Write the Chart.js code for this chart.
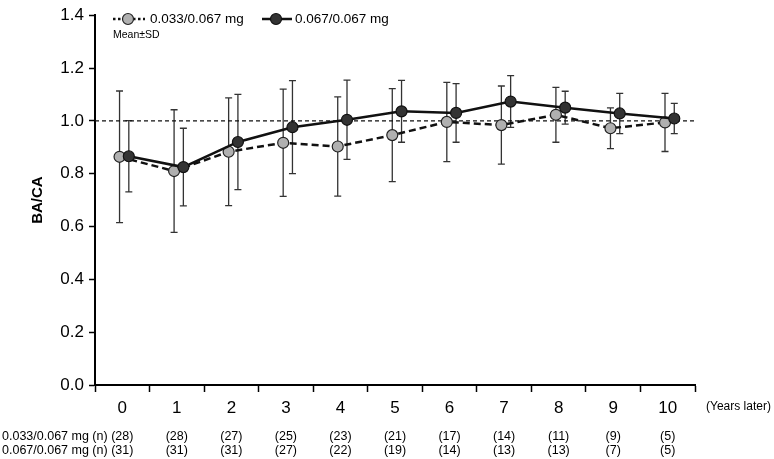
<!DOCTYPE html>
<html>
<head>
<meta charset="utf-8">
<script src="https://cdn.jsdelivr.net/npm/chart.js@4.4.0/dist/chart.umd.min.js"></script>
<style>
html,body{margin:0;padding:0;background:#fff;}
#wrap{position:relative;width:774px;height:459px;}
</style>
</head>
<body>
<div id="wrap"><canvas id="c" width="774" height="459"></canvas></div>
<script>
const years = [0,1,2,3,4,5,6,7,8,9,10];
const seriesNames = ['0.033/0.067 mg', '0.067/0.067 mg'];
const mean033 = [0.864,0.810,0.883,0.917,0.903,0.946,0.996,0.984,1.023,0.972,0.994];
const sd033   = [0.249,0.232,0.204,0.203,0.188,0.176,0.150,0.148,0.104,0.077,0.110];
const mean067 = [0.866,0.825,0.920,0.976,1.004,1.036,1.030,1.073,1.050,1.028,1.009];
const sd067   = [0.135,0.147,0.180,0.176,0.150,0.117,0.111,0.098,0.062,0.076,0.057];
const n033 = [28,28,27,25,23,21,17,14,11,9,5];
const n067 = [31,31,31,27,22,19,14,13,13,7,5];
const yTicks = [0,0.2,0.4,0.6,0.8,1.0,1.2,1.4];
const refValue = 1.0;
const rowLabels = ['0.033/0.067 mg (n)', '0.067/0.067 mg (n)'];

const FONT = "'Liberation Sans', Arial, sans-serif";
const OFF033 = -0.05, OFF067 = 0.12;

const d033 = years.map((x,i)=>({x:x+OFF033, y:mean033[i], sd:sd033[i]}));
const d067 = years.map((x,i)=>({x:x+OFF067, y:mean067[i], sd:sd067[i]}));

const errorBars = {
  id:'errorBars',
  beforeDatasetsDraw(chart){
    const {ctx, scales:{x,y}} = chart;
    ctx.save();
    ctx.strokeStyle = '#333';
    ctx.lineWidth = 1.3;
    [0,1].forEach(di=>{
      chart.data.datasets[di].data.forEach(p=>{
        const px = x.getPixelForValue(p.x);
        const top = y.getPixelForValue(p.y + p.sd);
        const bot = y.getPixelForValue(p.y - p.sd);
        ctx.beginPath();
        ctx.moveTo(px, top); ctx.lineTo(px, bot);
        ctx.moveTo(px-3.5, top); ctx.lineTo(px+3.5, top);
        ctx.moveTo(px-3.5, bot); ctx.lineTo(px+3.5, bot);
        ctx.stroke();
      });
    });
    ctx.restore();
  }
};

const extras = {
  id:'extras',
  afterDraw(chart){
    const {ctx, scales:{x}} = chart;
    ctx.save();
    // legend
    ctx.textBaseline = 'middle';
    ctx.textAlign = 'left';
    const ly = 19;
    ctx.strokeStyle = '#111';
    ctx.lineWidth = 2.5;
    ctx.setLineDash([2.5,2.5]);
    ctx.beginPath(); ctx.moveTo(113, ly); ctx.lineTo(145, ly); ctx.stroke();
    ctx.setLineDash([]);
    ctx.beginPath(); ctx.arc(128, ly, 5.5, 0, Math.PI*2);
    ctx.fillStyle = '#b0b0b0'; ctx.fill(); ctx.lineWidth = 1.2; ctx.strokeStyle='#222'; ctx.stroke();
    ctx.fillStyle = '#000';
    ctx.font = "13.5px " + FONT;
    ctx.fillText(seriesNames[0], 150, ly);
    ctx.lineWidth = 2.5; ctx.strokeStyle = '#111';
    ctx.beginPath(); ctx.moveTo(262, ly); ctx.lineTo(292, ly); ctx.stroke();
    ctx.beginPath(); ctx.arc(276, ly, 5.5, 0, Math.PI*2);
    ctx.fillStyle = '#333'; ctx.fill(); ctx.lineWidth = 1.2; ctx.strokeStyle='#111'; ctx.stroke();
    ctx.fillStyle = '#000';
    ctx.fillText(seriesNames[1], 295, ly);
    ctx.font = "10.5px " + FONT;
    ctx.fillText('Mean\u00B1SD', 113, 35);
    // x unit label
    ctx.font = "12px " + FONT;
    ctx.fillText('(Years later)', 706, 407);
    // n table
    ctx.font = "12.5px " + FONT;
    [[n033,437],[n067,451]].forEach(([arr,yy],ri)=>{
      ctx.textAlign = 'left';
      ctx.fillText(rowLabels[ri], 2, yy);
      ctx.textAlign = 'center';
      arr.forEach((v,i)=>{
        const px = x.getPixelForValue(years[i]);
        ctx.fillText('(' + v + ')', px, yy);
      });
    });
    ctx.restore();
  }
};

new Chart(document.getElementById('c'), {
  type:'line',
  data:{
    datasets:[
      {
        label: seriesNames[0],
        data: d033,
        borderColor:'#111', borderWidth:2.5, borderDash:[7,4],
        pointRadius:5.5, pointBackgroundColor:'#b0b0b0', pointBorderColor:'#222', pointBorderWidth:1.2,
        order: 2
      },
      {
        label: seriesNames[1],
        data: d067,
        borderColor:'#111', borderWidth:2.5,
        pointRadius:5.5, pointBackgroundColor:'#333', pointBorderColor:'#111', pointBorderWidth:1.2,
        order: 1
      },
      {
        label:'ref',
        data:[{x:-0.5,y:refValue},{x:10.5,y:refValue}],
        borderColor:'#111', borderWidth:1.3, borderDash:[4,3],
        pointRadius:0, order: 3
      }
    ]
  },
  options:{
    responsive:false, animation:false,
    layout:{padding:{top:9,right:79,left:0,bottom:0}},
    plugins:{legend:{display:false}, tooltip:{enabled:false}},
    scales:{
      x:{
        type:'linear', min:-0.5, max:10.5,
        afterFit(s){ s.height = 74; },
        afterBuildTicks(s){ const t=[]; for(let k=0;k<=22;k++) t.push({value:-0.5+0.5*k}); s.ticks=t; },
        grid:{drawOnChartArea:false, tickLength:7, tickWidth:1.5,
          tickColor:(c)=> (c.tick && Number.isInteger(c.tick.value)) ? 'rgba(0,0,0,0)' : '#000'},
        border:{color:'#000', width:2},
        ticks:{autoSkip:false, maxRotation:0, padding:6, color:'#000',
          font:{family:FONT, size:17},
          callback:(v)=> Number.isInteger(v) ? String(years[v]) : ''}
      },
      y:{
        min:0, max:1.4,
        afterFit(s){ s.width = 95; },
        afterBuildTicks(s){ s.ticks = yTicks.map(v=>({value:v})); },
        grid:{drawOnChartArea:false, tickLength:6, tickWidth:1.5, tickColor:'#000'},
        border:{color:'#000', width:2},
        ticks:{padding:5, color:'#000', font:{family:FONT, size:17},
          callback:(v)=> v.toFixed(1)},
        title:{display:true, text:'BA/CA', color:'#000',
          font:{family:FONT, size:15, weight:'bold'}, padding:{top:29,bottom:0}}
      }
    }
  },
  plugins:[errorBars, extras]
});
</script>
</body>
</html>
